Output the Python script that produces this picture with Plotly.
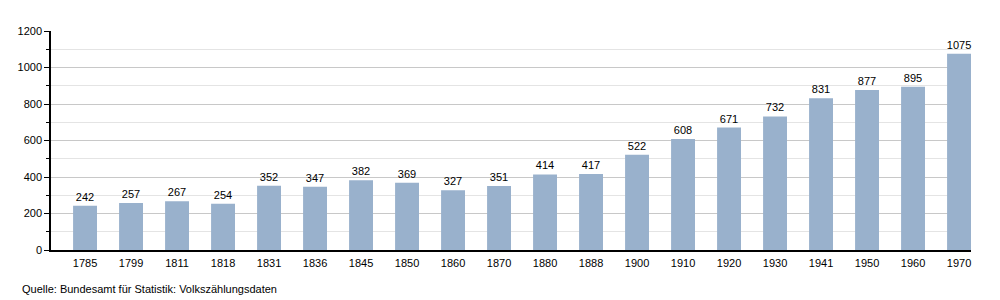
import plotly.graph_objects as go

years = ["1785", "1799", "1811", "1818", "1831", "1836", "1845", "1850", "1860", "1870",
         "1880", "1888", "1900", "1910", "1920", "1930", "1941", "1950", "1960", "1970"]
population = [242, 257, 267, 254, 352, 347, 382, 369, 327, 351,
              414, 417, 522, 608, 671, 732, 831, 877, 895, 1075]
y_ticks = [0, 200, 400, 600, 800, 1000, 1200]
source = "Quelle: Bundesamt für Statistik: Volkszählungsdaten"

fig = go.Figure()
fig.add_trace(go.Bar(
    x=list(range(len(years))), y=population,
    text=[str(v) for v in population], textposition="outside",
    outsidetextfont=dict(size=11, color="#000000", family="Liberation Sans"),
    insidetextfont=dict(size=11, color="#000000", family="Liberation Sans"),
    constraintext="none",
    cliponaxis=False,
    marker=dict(color="#99b1cc", line=dict(width=0)),
    width=0.52,
))

fig.update_layout(
    width=1000, height=300,
    margin=dict(l=51, r=29, t=31, b=50),
    paper_bgcolor="white", plot_bgcolor="white",
    font=dict(family="Liberation Sans", size=11, color="#000000"),
    showlegend=False,
    uniformtext=dict(minsize=11, mode="show"),
    xaxis=dict(
        range=[-0.74, 19.26], tickmode="array",
        tickvals=list(range(len(years))), ticktext=years,
        showgrid=False, zeroline=False, showline=True,
        linecolor="#000000", linewidth=1.5, ticks="",
        tickfont=dict(size=11), ticklabelstandoff=2,
    ),
    yaxis=dict(
        range=[0, 1200], tickmode="array", tickvals=y_ticks,
        showgrid=True, gridcolor="#c8c8c8", gridwidth=1,
        zeroline=False, showline=True, linecolor="#000000", linewidth=1.5,
        ticks="outside", ticklen=5, tickcolor="#000000",
        minor=dict(dtick=100, showgrid=True, gridcolor="#e4e4e4",
                   ticks="outside", ticklen=3, tickcolor="#000000"),
        tickfont=dict(size=11),
    ),
    annotations=[dict(
        text=source, x=(20 - 51) / 920, y=(250 - 289) / 219,
        xref="paper", yref="paper",
        showarrow=False, xanchor="left", yanchor="middle",
        font=dict(size=11, color="#000000"),
    )],
)

fig.write_html("out.html")
